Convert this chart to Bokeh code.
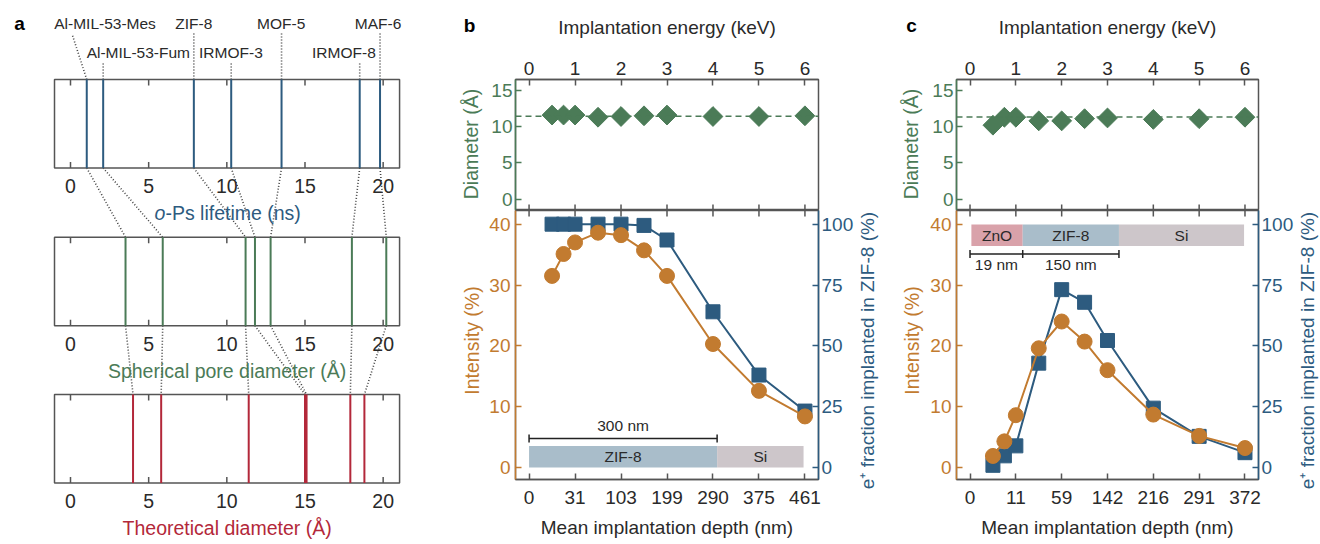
import numpy as np
from bokeh.plotting import figure
from bokeh.models import Range1d, LinearAxis, FixedTicker, Span
from bokeh.layouts import row, column
from bokeh.embed import file_html
from bokeh.resources import INLINE
from bokeh.core.properties import value

FONT = "Liberation Sans"
BLUE = "#2d5b7f"
GREEN = "#4b7b57"
RED = "#b3283a"
ORANGE = "#c27b30"
FRAME = "#555555"
TEXT = "#2a2a2a"
DOT = "#444444"

# ---------------- panel a data ----------------
materials = ["Al-MIL-53-Mes", "Al-MIL-53-Fum", "ZIF-8", "IRMOF-3", "MOF-5", "IRMOF-8", "MAF-6"]
ops_lifetime_ns = [1.04, 2.09, 7.89, 10.28, 13.5, 18.5, 19.8]
spherical_diam_A = [3.52, 5.9, 11.2, 11.8, 12.8, 18.0, 20.2]
theoretical_diam_A = [4.0, 5.8, 11.4, 15.0, 15.1, 17.9, 18.8]
ruler_ticks = [0, 5, 10, 15, 20]
ruler_tick_labels = ["0", "5", "10", "15", "20"]

# ---------------- panel b / c data ----------------
energy_keV = [0.5, 0.75, 1, 1.5, 2, 2.5, 3, 4, 5, 6]
energy_ticks = [0, 1, 2, 3, 4, 5, 6]
diam_ticks = [0, 5, 10, 15]
int_ticks = [0, 10, 20, 30, 40]
frac_ticks = [0, 25, 50, 75, 100]

b_depth_labels = ["0", "31", "103", "199", "290", "375", "461"]
b_diameter = [11.6, 11.6, 11.6, 11.3, 11.4, 11.5, 11.6, 11.4, 11.4, 11.5]
b_mean_diameter = 11.45
b_intensity = [31.5, 35.1, 37.0, 38.6, 38.2, 35.7, 31.5, 20.3, 12.6, 8.4]
b_fraction = [100, 100, 100, 100, 100, 99.5, 93.5, 64.0, 38.0, 23.2]

c_depth_labels = ["0", "11", "59", "142", "216", "291", "372"]
c_diameter = [10.2, 11.3, 11.3, 10.8, 10.8, 11.1, 11.2, 11.0, 11.1, 11.3]
c_mean_diameter = 11.35
c_intensity = [1.9, 4.3, 8.6, 19.6, 24.0, 20.7, 16.0, 8.7, 5.2, 3.2]
c_fraction = [0.9, 4.8, 8.9, 42.9, 73.1, 67.9, 52.2, 24.4, 12.8, 6.1]

# sample layer stacks (edges in keV on the energy scale)
b_layers = ["ZIF-8", "Si"]
b_layer_edges = [0.0, 4.09, 5.97]
b_layer_colors = ["#a9bdca", "#cdc6ca"]
b_scale_names = ["300 nm"]
b_scale_edges = [0.0, 4.09]

c_layers = ["ZnO", "ZIF-8", "Si"]
c_layer_edges = [0.03, 1.15, 3.25, 5.98]
c_layer_colors = ["#d9a2aa", "#a9bdca", "#cdc6ca"]
c_scale_names = ["19 nm", "150 nm"]
c_scale_edges = [0.0, 1.15, 3.25]

X_RANGE = (-0.295, 6.295)
DIAM_RANGE = (-1.55, 16.5)
INT_RANGE = (-1.97, 42.25)
FRAC_RANGE = (INT_RANGE[0] * 2.5, INT_RANGE[1] * 2.5)

ENERGY_LABEL = "Implantation energy (keV)"
DEPTH_LABEL = "Mean implantation depth (nm)"
DIAM_LABEL = "Diameter (Å)"
INT_LABEL = "Intensity (%)"
FRAC_LABEL = "e⁺ fraction implanted in ZIF-8 (%)"


def txt(p, x, y, t, size="18px", color=TEXT, align="center", style="normal",
        baseline="middle", angle=0.0):
    p.text(x=x, y=y, text=t, text_font=value(FONT), text_font_size=size,
           text_color=color, text_align=align, text_baseline=baseline,
           text_font_style=style, angle=angle)


def blank(width, height, x_range, y_range):
    f = figure(width=width, height=height, x_range=x_range, y_range=y_range,
               x_axis_type=None, y_axis_type=None, min_border=0,
               toolbar_location=None, output_backend="svg", outline_line_color=None)
    f.grid.visible = False
    return f


# ======================= PANEL A =======================
pa = blank(436, 544, Range1d((0 - 70) / 15.633, (436 - 70) / 15.633), Range1d(544, 0))

rulers = [ops_lifetime_ns, spherical_diam_A, theoretical_diam_A]
ruler_colors = [BLUE, GREEN, RED]
ruler_top = [79, 236.7, 394]
ruler_h = 88.5
box_l, box_r = -1.023, 21.05

# dotted connectors between rulers
for i in range(2):
    pa.segment(x0=rulers[i], y0=[ruler_top[i] + ruler_h] * 7,
               x1=rulers[i + 1], y1=[ruler_top[i + 1]] * 7,
               line_color=DOT, line_width=1.6, line_dash="1 2")

# leaders to material names
label_x = [2.21, 4.34, 7.89, 10.26, 13.48, 17.49, 19.67]
label_y = [23.3, 52.3, 23.3, 52.3, 23.3, 52.3, 23.3]
leader_x = [0.11, 2.09, 7.89, 10.28, 13.5, 18.5, 19.8]
leader_y = [34, 62, 32, 62, 32, 62, 32]
pa.segment(x0=ops_lifetime_ns, y0=[ruler_top[0]] * 7, x1=leader_x, y1=leader_y,
           line_color=DOT, line_width=1.6, line_dash="1 2")
txt(pa, label_x, label_y, materials, size="15.5px")

for i in range(3):
    top, bot = ruler_top[i], ruler_top[i] + ruler_h
    pa.quad(left=box_l, right=box_r, top=top, bottom=bot, fill_color="white",
            line_color=FRAME, line_width=1.5)
    pa.segment(x0=ruler_ticks, y0=[top] * 5, x1=ruler_ticks, y1=[top + 6] * 5,
               line_color=FRAME, line_width=1.5)
    pa.segment(x0=ruler_ticks, y0=[bot] * 5, x1=ruler_ticks, y1=[bot - 6] * 5,
               line_color=FRAME, line_width=1.5)
    vals = rulers[i]
    pa.segment(x0=vals, y0=[top] * len(vals), x1=vals, y1=[bot] * len(vals),
               line_color=ruler_colors[i], line_width=2)
    txt(pa, ruler_ticks, [bot + 18] * 5, ruler_tick_labels, size="19.5px")

txt(pa, [6.07], [212], ["o"], size="19.5px", color=BLUE, align="right", style="italic")
txt(pa, [6.07], [212], ["-Ps lifetime (ns)"], size="19.5px", color=BLUE, align="left")
txt(pa, [10.02], [370], ["Spherical pore diameter (Å)"], size="19.5px", color=GREEN)
txt(pa, [10.02], [527], ["Theoretical diameter (Å)"], size="19.5px", color=RED)
txt(pa, [-3.26], [23], ["a"], size="19px", color="black", style="bold")


# ======================= PANELS B / C =======================
def style_axis(ax, line_color, label_color):
    ax.axis_line_color = line_color
    ax.axis_line_width = 1.5
    ax.major_tick_line_color = line_color
    ax.major_tick_line_width = 1.5
    ax.major_tick_in = 6
    ax.major_tick_out = 0
    ax.minor_tick_line_color = None
    ax.major_label_text_font = FONT
    ax.major_label_text_font_size = "19px"
    ax.major_label_text_color = label_color
    ax.axis_label_text_font = FONT
    ax.axis_label_text_font_size = "19px"
    ax.axis_label_text_font_style = "normal"
    ax.axis_label_text_color = label_color


TOP_H = 210
BOT_H = 334
STRIP_W = 24


def make_panel(letter, diam, mean_diam, inten, frac, depth_labels,
               layers, layer_edges, layer_colors, layer_bottom, layer_top,
               scale_names, scale_edges, scale_y, scale_text_y,
               lstrip_w, left, frame_w, right, letter_x, diam_lab_x, int_lab_x, frac_lab_x):
    width = left + frame_w + right

    # left strip: panel letter and the two left-axis titles (page-pixel coordinates)
    lstrip = blank(lstrip_w, 544, Range1d(0, lstrip_w), Range1d(0, 544))
    txt(lstrip, [letter_x], [544 - 25], [letter], size="19px", color="black", style="bold")
    txt(lstrip, [diam_lab_x], [544 - 143.5], [DIAM_LABEL], size="19.5px", color=GREEN,
        angle=np.pi / 2)
    txt(lstrip, [int_lab_x], [544 - 340], [INT_LABEL], size="19.5px", color=ORANGE,
        angle=np.pi / 2)

    xr = Range1d(*X_RANGE)
    top = figure(width=width, height=TOP_H, x_range=xr, y_range=Range1d(*DIAM_RANGE),
                 x_axis_location="above", toolbar_location=None, output_backend="svg",
                 min_border_left=left, min_border_right=right,
                 min_border_top=79, min_border_bottom=0)
    top.grid.visible = False
    top.outline_line_color = FRAME
    top.outline_line_width = 1.5
    style_axis(top.xaxis[0], FRAME, TEXT)
    top.xaxis[0].ticker = FixedTicker(ticks=energy_ticks)
    top.xaxis[0].axis_label = ENERGY_LABEL
    top.xaxis[0].major_label_standoff = 5
    top.xaxis[0].axis_label_standoff = 21
    style_axis(top.yaxis[0], GREEN, GREEN)
    top.yaxis[0].ticker = FixedTicker(ticks=diam_ticks)
    top.yaxis[0].major_label_standoff = 3
    top.ray(x=energy_ticks, y=DIAM_RANGE[0], length=6, length_units="screen",
            angle=np.pi / 2, line_color=FRAME, line_width=1.5)
    top.add_layout(Span(location=mean_diam, dimension="width", line_color=GREEN,
                        line_width=1.5, line_dash="6 4"))
    top.scatter(energy_keV, diam, marker="square", angle=np.pi / 4, size=14,
                fill_color=GREEN, line_color=GREEN)

    bot = figure(width=width, height=BOT_H, x_range=xr, y_range=Range1d(*INT_RANGE),
                 toolbar_location=None, output_backend="svg",
                 min_border_left=left, min_border_right=right,
                 min_border_top=0, min_border_bottom=65)
    bot.grid.visible = False
    bot.outline_line_color = FRAME
    bot.outline_line_width = 1.5
    bot.extra_y_ranges = {"frac": Range1d(*FRAC_RANGE)}
    style_axis(bot.xaxis[0], FRAME, TEXT)
    bot.xaxis[0].ticker = FixedTicker(ticks=energy_ticks)
    bot.xaxis[0].major_label_overrides = {t: l for t, l in zip(energy_ticks, depth_labels)}
    bot.xaxis[0].axis_label = DEPTH_LABEL
    bot.xaxis[0].major_label_standoff = 11
    bot.xaxis[0].axis_label_standoff = 10
    style_axis(bot.yaxis[0], ORANGE, ORANGE)
    bot.yaxis[0].ticker = FixedTicker(ticks=int_ticks)
    bot.yaxis[0].major_label_standoff = 5
    rax = LinearAxis(y_range_name="frac", ticker=FixedTicker(ticks=frac_ticks))
    style_axis(rax, BLUE, BLUE)
    rax.major_label_standoff = 3
    bot.add_layout(rax, "right")
    bot.ray(x=energy_ticks, y=INT_RANGE[1], length=6, length_units="screen",
            angle=-np.pi / 2, line_color=FRAME, line_width=1.5)

    # layer stack
    bot.quad(left=layer_edges[:-1], right=layer_edges[1:],
             bottom=layer_bottom, top=layer_top, fill_color=layer_colors, line_color=None)
    mids = [(a + b) / 2 for a, b in zip(layer_edges[:-1], layer_edges[1:])]
    txt(bot, mids, [(layer_bottom + layer_top) / 2] * len(mids), layers, size="15.5px")
    bot.segment(x0=scale_edges[:-1], y0=scale_y, x1=scale_edges[1:], y1=scale_y,
                line_color="#222222", line_width=1.5)
    bot.scatter(scale_edges, [scale_y] * len(scale_edges), marker="dash", angle=np.pi / 2,
                size=8, line_color="#222222", line_width=1.5)
    smids = [(a + b) / 2 for a, b in zip(scale_edges[:-1], scale_edges[1:])]
    txt(bot, smids, [scale_text_y] * len(smids), scale_names, size="15.5px")

    # data
    bot.line(energy_keV, frac, y_range_name="frac", line_color=BLUE, line_width=2)
    bot.scatter(energy_keV, frac, y_range_name="frac", marker="square", size=14,
                fill_color=BLUE, line_color=BLUE)
    bot.line(energy_keV, inten, line_color=ORANGE, line_width=2)
    bot.scatter(energy_keV, inten, marker="circle", size=15,
                fill_color=ORANGE, line_color=ORANGE)

    # right strip holding the right-axis title (reads bottom to top, spans both plots)
    rstrip = blank(STRIP_W, 544, Range1d(0, STRIP_W), Range1d(0, 544))
    txt(rstrip, [frac_lab_x], [544 - 350], [FRAC_LABEL], size="19px", color=BLUE,
        angle=np.pi / 2)

    return row(lstrip, column(top, bot), rstrip)


panel_b = make_panel("b", b_diameter, b_mean_diameter, b_intensity, b_fraction,
                     b_depth_labels, b_layers, b_layer_edges, b_layer_colors, 0.0, 3.55,
                     b_scale_names, b_scale_edges, 4.77, 6.84,
                     lstrip_w=48, left=31, frame_w=304, right=37,
                     letter_x=33, diam_lab_x=34, int_lab_x=35.7, frac_lab_x=10.7)
panel_c = make_panel("c", c_diameter, c_mean_diameter, c_intensity, c_fraction,
                     c_depth_labels, c_layers, c_layer_edges, c_layer_colors, 36.4, 39.95,
                     c_scale_names, c_scale_edges, 35.1, 33.4,
                     lstrip_w=46, left=30, frame_w=303, right=37,
                     letter_x=31, diam_lab_x=30, int_lab_x=31.7, frac_lab_x=10.7)

layout = row(pa, panel_b, panel_c)
open("out.html", "w").write(file_html(layout, INLINE))
